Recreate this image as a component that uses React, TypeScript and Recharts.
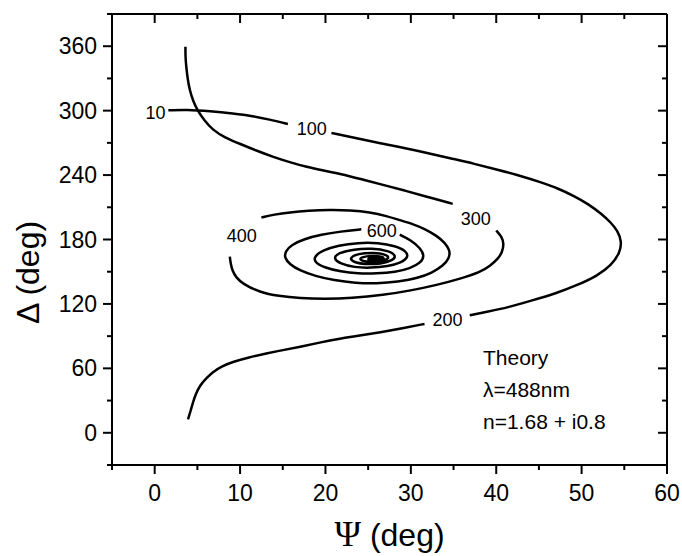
import React from 'react';
import { ComposedChart, Scatter, XAxis, YAxis } from 'recharts';

// Psi (deg) / Delta (deg) trajectory, split where the thickness labels sit
const segStart = [
  [1.6, 300.3], [3.7, 301], [6.5, 299.6], [9.2, 297.4], [11.5, 295], [13.4, 291.8], [15.6, 287.5],
];
const segOuter = [
  [20.7, 279.2], [23.5, 274.6], [26.4, 269.6], [29.5, 264.8], [32.5, 259.6], [35, 255], [37.4, 250.6],
  [40, 245.2], [42.8, 239.5], [45.2, 233.4], [47.3, 227.4], [49.1, 220.5], [50.8, 213], [52.3, 204],
  [53.4, 196], [54.2, 188.4], [54.7, 178], [54.5, 168], [53.5, 156], [51.8, 146], [49.4, 137.2],
  [47, 129.8], [44.2, 123.2], [41.5, 117], [38.8, 112.4], [36.9, 109.4],
];
const segBottom = [
  [31.6, 101.4], [29, 97.3], [26.4, 93.6], [24, 90.6], [21.7, 87.7], [19.3, 84], [17, 80], [15, 77],
  [13.1, 73.9], [11, 70.2], [9.2, 66.2], [7.8, 61.8], [6.8, 56.6], [6, 50.5], [5.3, 44], [4.8, 36],
  [4.5, 28.6], [4.2, 20.5], [3.9, 12.4],
];
const segTop = [
  [3.6, 359.4], [3.6, 350], [3.7, 340.7], [3.85, 330], [4.1, 319], [4.5, 309], [5, 300.3], [5.8, 291],
  [6.8, 282], [8.2, 275], [10, 269], [12, 262.5], [13.9, 256.8], [15.8, 252], [17.8, 247.5],
  [19.8, 244.2], [21.7, 241.3], [24.5, 235.5], [27, 230.4], [29.3, 225.5], [31.6, 220.5], [34.9, 213.2],
];
const seg300 = [
  [40, 188.4], [40.7, 182], [40.9, 176], [40.7, 168], [40.2, 162], [39.3, 155.5], [38.1, 149.5],
  [36, 144], [33, 137.5], [30, 132.5], [26.8, 128.3], [23, 125.3], [20, 124.6], [17, 125.2],
  [14.5, 127.3], [12.3, 130.9], [10.3, 138.7], [9.5, 145], [9.1, 151], [8.9, 157.5], [8.8, 164],
];
const seg400 = [
  [12.5, 200.5], [14, 203.3], [15.8, 205.3], [18, 206.8], [20.5, 207.6], [22.9, 207.2], [25.2, 205.5],
  [27.2, 201.8], [28.7, 198], [30.2, 194.5], [31.6, 190], [33, 183.7], [34, 177], [34.6, 169.7],
  [34.5, 162.5], [33.8, 155.7], [32.5, 149], [30.7, 143.8], [28.5, 140.5], [26, 139], [23.5, 139.5],
  [21, 142], [18.8, 146], [17, 151], [15.8, 157], [15.2, 163], [15.3, 169], [16, 175], [17.5, 180.5],
  [19.5, 184.5], [21.8, 187.5], [24.2, 189.5],
];
const seg600 = [
  [28.7, 184.5], [30, 179.5], [31.1, 172], [31.6, 165], [31.2, 158.5], [29.9, 153], [28.2, 149.8],
  [26, 148.2], [23.8, 148.2], [21.8, 150], [19.8, 154], [18.7, 159], [18.7, 164.5], [19.7, 170],
  [21.5, 174.5], [23.8, 177], [26.2, 177], [28.2, 174], [29.5, 169], [29.7, 163.5], [28.9, 158.5],
  [27.3, 155], [25.3, 153.5], [23.4, 154], [21.7, 157.5], [20.9, 162.5], [21.5, 167.5], [23.3, 171],
  [25.5, 171.8], [27.4, 169.5], [28.3, 165], [27.9, 160.5], [26.5, 157.3], [24.6, 156.8], [23.2, 159],
  [22.8, 163], [23.8, 166.8], [25.6, 168], [27.2, 166], [27.5, 162.3], [26.5, 159.6], [25, 159],
  [24, 160.8], [24.1, 163.6], [25.5, 165.2], [26.8, 163.8], [26.9, 161.5], [25.8, 160.2], [24.9, 161],
  [25.1, 162.8], [26.2, 163], [26.4, 161.6],
];

const segments = [segStart, segOuter, segBottom, segTop, seg300, seg400, seg600];

// thickness labels (nm)
const thicknessText = ['10', '100', '200', '300', '400', '600'];
const thicknessPsi = [0.1, 18.4, 34.3, 37.6, 10.2, 26.6];
const thicknessDelta = [298, 282.6, 105, 198.8, 183, 188];

const xMajor = [0, 10, 20, 30, 40, 50, 60];
const xMinor = [-5, 5, 15, 25, 35, 45, 55];
const yMajor = [0, 60, 120, 180, 240, 300, 360];
const yMinor = [-30, 30, 90, 150, 210, 270, 330, 390];

const xTicks = [...xMajor, ...xMinor].sort((a, b) => a - b);
const yTicks = [...yMajor, ...yMinor].sort((a, b) => a - b);

const noteLines = ['Theory', 'λ=488nm', 'n=1.68 + i0.8'];

const FONT = '"Liberation Sans", Arial, sans-serif';

const toPoints = (seg: number[][]) => seg.map(([x, y]) => ({ x, y }));
const labelData = thicknessText.map((t, i) => ({ x: thicknessPsi[i], y: thicknessDelta[i], t }));

const BottomTick = (props: any) => {
  const { x, y, payload } = props;
  const major = xMajor.includes(payload.value);
  return (
    <g>
      <line x1={x} x2={x} y1={y} y2={y + (major ? 9 : 5)} stroke="#000" strokeWidth={2} />
      {major && (
        <text x={x} y={y + 28} textAnchor="middle" dominantBaseline="central" fontSize={23} fontFamily={FONT} fill="#000">
          {payload.value}
        </text>
      )}
    </g>
  );
};

const TopTick = (props: any) => {
  const { x, y, payload } = props;
  const major = xMajor.includes(payload.value);
  return <line x1={x} x2={x} y1={y} y2={y + (major ? 9 : 5)} stroke="#000" strokeWidth={2} />;
};

const LeftTick = (props: any) => {
  const { x, y, payload } = props;
  const major = yMajor.includes(payload.value);
  return (
    <g>
      <line x1={x - (major ? 9 : 5)} x2={x} y1={y} y2={y} stroke="#000" strokeWidth={2} />
      {major && (
        <text x={x - 15} y={y} textAnchor="end" dominantBaseline="central" fontSize={23} fontFamily={FONT} fill="#000">
          {payload.value}
        </text>
      )}
    </g>
  );
};

const RightTick = (props: any) => {
  const { x, y, payload } = props;
  const major = yMajor.includes(payload.value);
  return <line x1={x - (major ? 9 : 5)} x2={x} y1={y} y2={y} stroke="#000" strokeWidth={2} />;
};

const XTitle = (props: any) => {
  const { x, y, width } = props.viewBox;
  return (
    <text x={x + width / 2} y={y + 81} textAnchor="middle" fill="#000" fontFamily={FONT} fontSize={32}>
      <tspan fontFamily='"Liberation Serif", "Times New Roman", serif' fontSize={36}>Ψ</tspan>
      <tspan> (deg)</tspan>
    </text>
  );
};

const YTitle = (props: any) => {
  const { y, height } = props.viewBox;
  const cx = 28;
  const cy = y + height / 2 + 33;
  return (
    <text
      x={cx}
      y={cy}
      transform={`rotate(-90 ${cx} ${cy})`}
      textAnchor="middle"
      dominantBaseline="central"
      fill="#000"
      fontFamily={FONT}
      fontSize={32}
    >
      Δ (deg)
    </text>
  );
};

const LabelShape = (props: any) => {
  const { cx, cy, payload } = props;
  return (
    <text x={cx} y={cy} textAnchor="middle" dominantBaseline="central" fontSize={18} fontFamily={FONT} fill="#000">
      {payload.t}
    </text>
  );
};

const axisLine = { stroke: '#000', strokeWidth: 2 };

export default function App() {
  return (
    <div style={{ position: 'absolute', left: 0, top: 0, width: 682, height: 556, background: '#fff' }}>
      <ComposedChart width={682} height={556} margin={{ top: 13, right: 14, bottom: 0, left: 0 }}>
        <XAxis
          xAxisId={0}
          type="number"
          dataKey="x"
          domain={[-5, 60]}
          ticks={xTicks}
          interval={0}
          allowDataOverflow
          height={91}
          axisLine={axisLine}
          tickLine={false}
          tickSize={0}
          tickMargin={0}
          tick={<BottomTick />}
          label={{ content: <XTitle /> }}
        />
        <XAxis
          xAxisId="top"
          orientation="top"
          type="number"
          dataKey="x"
          domain={[-5, 60]}
          ticks={xTicks}
          interval={0}
          allowDataOverflow
          height={1}
          axisLine={axisLine}
          tickLine={false}
          tickSize={0}
          tickMargin={0}
          tick={<TopTick />}
        />
        <YAxis
          yAxisId={0}
          type="number"
          dataKey="y"
          domain={[-30, 390]}
          ticks={yTicks}
          interval={0}
          allowDataOverflow
          width={112}
          axisLine={axisLine}
          tickLine={false}
          tickSize={0}
          tickMargin={0}
          tick={<LeftTick />}
          label={{ content: <YTitle /> }}
        />
        <YAxis
          yAxisId="right"
          orientation="right"
          type="number"
          dataKey="y"
          domain={[-30, 390]}
          ticks={yTicks}
          interval={0}
          allowDataOverflow
          width={1}
          axisLine={axisLine}
          tickLine={false}
          tickSize={0}
          tickMargin={0}
          tick={<RightTick />}
        />
        {segments.map((seg, i) => (
          <Scatter
            key={i}
            data={toPoints(seg)}
            line={{ stroke: '#000', strokeWidth: 2.5 }}
            lineJointType="basis"
            shape={() => <g />}
            isAnimationActive={false}
          />
        ))}
        <Scatter data={labelData} shape={<LabelShape />} isAnimationActive={false} />
      </ComposedChart>
      <div
        style={{
          position: 'absolute',
          left: 483,
          top: 342,
          fontFamily: FONT,
          fontSize: 21,
          lineHeight: '32px',
          color: '#000',
          whiteSpace: 'nowrap',
        }}
      >
        {noteLines.map((l) => (
          <div key={l}>{l}</div>
        ))}
      </div>
    </div>
  );
}
